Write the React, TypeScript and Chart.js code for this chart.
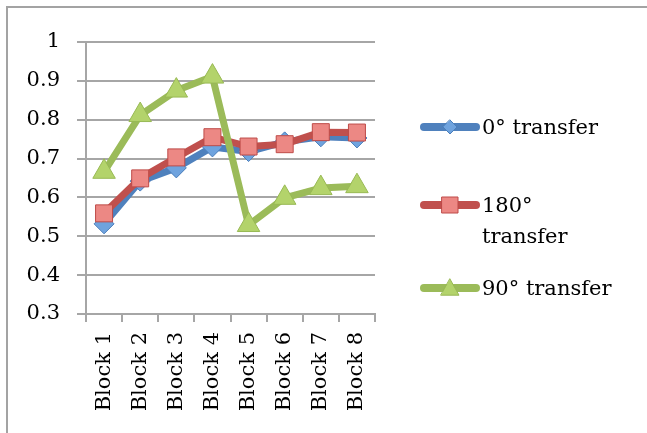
import React, { useEffect, useRef } from "react";
import { Chart, registerables } from "chart.js";

Chart.register(...registerables);

// Data
const categories = ["Block 1", "Block 2", "Block 3", "Block 4", "Block 5", "Block 6", "Block 7", "Block 8"];
const transfer0 = [0.532, 0.642, 0.676, 0.73, 0.718, 0.743, 0.756, 0.753];
const transfer180 = [0.559, 0.649, 0.703, 0.755, 0.731, 0.737, 0.768, 0.767];
const transfer90 = [0.666, 0.812, 0.875, 0.911, 0.529, 0.599, 0.624, 0.629];
const seriesLabels = ["0° transfer", "180° transfer", "90° transfer"];
const yMin = 0.3;
const yMax = 1;
const yStep = 0.1;

const FONT = "'DejaVu Serif', 'Liberation Serif', serif";
const GRID = "#a6a6a6";

type Marker = "diamond" | "square" | "triangle";

const seriesStyles: { line: string; fill: string; edge: string; marker: Marker }[] = [
  { line: "#4f81bd", fill: "#6fa3de", edge: "#4a7ebb", marker: "diamond" },
  { line: "#c0504d", fill: "#ec8884", edge: "#be4b48", marker: "square" },
  { line: "#9bbb59", fill: "#b3d36b", edge: "#98b954", marker: "triangle" },
];

function drawMarker(ctx: CanvasRenderingContext2D, kind: Marker, x: number, y: number, r: number, fill: string, edge: string) {
  ctx.beginPath();
  if (kind === "diamond") {
    ctx.moveTo(x, y - r);
    ctx.lineTo(x + r, y);
    ctx.lineTo(x, y + r);
    ctx.lineTo(x - r, y);
  } else if (kind === "square") {
    ctx.rect(x - r, y - r, 2 * r, 2 * r);
  } else {
    ctx.moveTo(x, y - r);
    ctx.lineTo(x + r, y + r * 0.8);
    ctx.lineTo(x - r, y + r * 0.8);
  }
  ctx.closePath();
  ctx.fillStyle = fill;
  ctx.fill();
  ctx.lineWidth = 1;
  ctx.strokeStyle = edge;
  ctx.stroke();
}

// Legend drawn at the right of the plot, one entry per series
const sideLegend = {
  id: "sideLegend",
  afterDraw(chart: Chart) {
    const ctx = chart.ctx;
    const rows = [127, 205, 288];
    const lineX0 = 424;
    const lineX1 = 476;
    const textX = 482;
    const maxWidth = 136;
    const markerSizes = [7, 8, 9];
    ctx.save();
    ctx.font = `21px ${FONT}`;
    ctx.textBaseline = "middle";
    ctx.textAlign = "left";
    seriesLabels.forEach((label, i) => {
      const st = seriesStyles[i];
      const y = rows[i];
      ctx.beginPath();
      ctx.moveTo(lineX0, y);
      ctx.lineTo(lineX1, y);
      ctx.lineWidth = 8;
      ctx.lineCap = "round";
      ctx.strokeStyle = st.line;
      ctx.stroke();
      drawMarker(ctx, st.marker, (lineX0 + lineX1) / 2, y, markerSizes[i], st.fill, st.edge);

      // wrap the label into lines that fit the legend width
      const words = label.split(" ");
      const lines: string[] = [];
      let cur = "";
      words.forEach((w) => {
        const test = cur ? cur + " " + w : w;
        if (cur && ctx.measureText(test).width > maxWidth) {
          lines.push(cur);
          cur = w;
        } else {
          cur = test;
        }
      });
      if (cur) lines.push(cur);
      ctx.fillStyle = "#000";
      lines.forEach((ln, k) => ctx.fillText(ln, textX, y + 2 + k * 31));
    });
    ctx.restore();
  },
};

export default function App() {
  const canvasRef = useRef<HTMLCanvasElement | null>(null);

  useEffect(() => {
    const canvas = canvasRef.current;
    if (!canvas) return;
    const pointStyles = ["rectRot", "rect", "triangle"];
    const radii = [10, 12, 13];
    const data = [transfer0, transfer180, transfer90];
    const chart = new Chart(canvas, {
      type: "line",
      data: {
        labels: categories,
        datasets: data.map((d, i) => ({
          label: seriesLabels[i],
          data: d,
          borderColor: seriesStyles[i].line,
          backgroundColor: seriesStyles[i].fill,
          borderWidth: 7,
          borderJoinStyle: "round" as const,
          borderCapStyle: "round" as const,
          tension: 0,
          pointStyle: pointStyles[i] as any,
          pointRadius: radii[i],
          pointBackgroundColor: seriesStyles[i].fill,
          pointBorderColor: seriesStyles[i].edge,
          pointBorderWidth: 1,
          order: 3 - i,
        })),
      },
      options: {
        responsive: false,
        animation: false,
        devicePixelRatio: 1,
        layout: { padding: { left: 0, top: 42, right: 272, bottom: 0 } },
        plugins: {
          legend: { display: false },
          tooltip: { enabled: false },
        },
        scales: {
          x: {
            offset: true,
            ticks: {
              minRotation: 90,
              maxRotation: 90,
              autoSkip: false,
              padding: 10,
              color: "#000",
              font: { family: FONT, size: 21 },
            },
            grid: {
              offset: true,
              drawOnChartArea: false,
              drawTicks: true,
              tickLength: 8,
              color: GRID,
              lineWidth: 2,
            },
            border: { color: GRID, width: 2 },
            afterFit: (s: any) => {
              s.height = 119;
            },
          },
          y: {
            min: yMin,
            max: yMax,
            ticks: {
              stepSize: yStep,
              padding: 17,
              color: "#000",
              font: { family: FONT, size: 21 },
              callback: (v: any) => String(Number(Number(v).toFixed(1))),
            },
            grid: {
              color: GRID,
              lineWidth: 2,
              tickLength: 9,
              drawTicks: true,
            },
            border: { color: GRID, width: 2 },
            afterFit: (s: any) => {
              s.width = 86;
            },
          },
        },
      },
      plugins: [sideLegend],
    });
    return () => chart.destroy();
  }, []);

  return (
    <div
      style={{
        position: "fixed",
        left: 0,
        top: 0,
        width: 647,
        height: 433,
        overflow: "hidden",
        background: "#fff",
      }}
    >
      <div
        style={{
          position: "absolute",
          left: 6,
          top: 6,
          width: 800,
          height: 600,
          border: "2px solid #a3a3a3",
        }}
      />
      <canvas
        ref={canvasRef}
        width={647}
        height={433}
        style={{ position: "absolute", left: 0, top: 0, width: 647, height: 433 }}
      />
    </div>
  );
}
